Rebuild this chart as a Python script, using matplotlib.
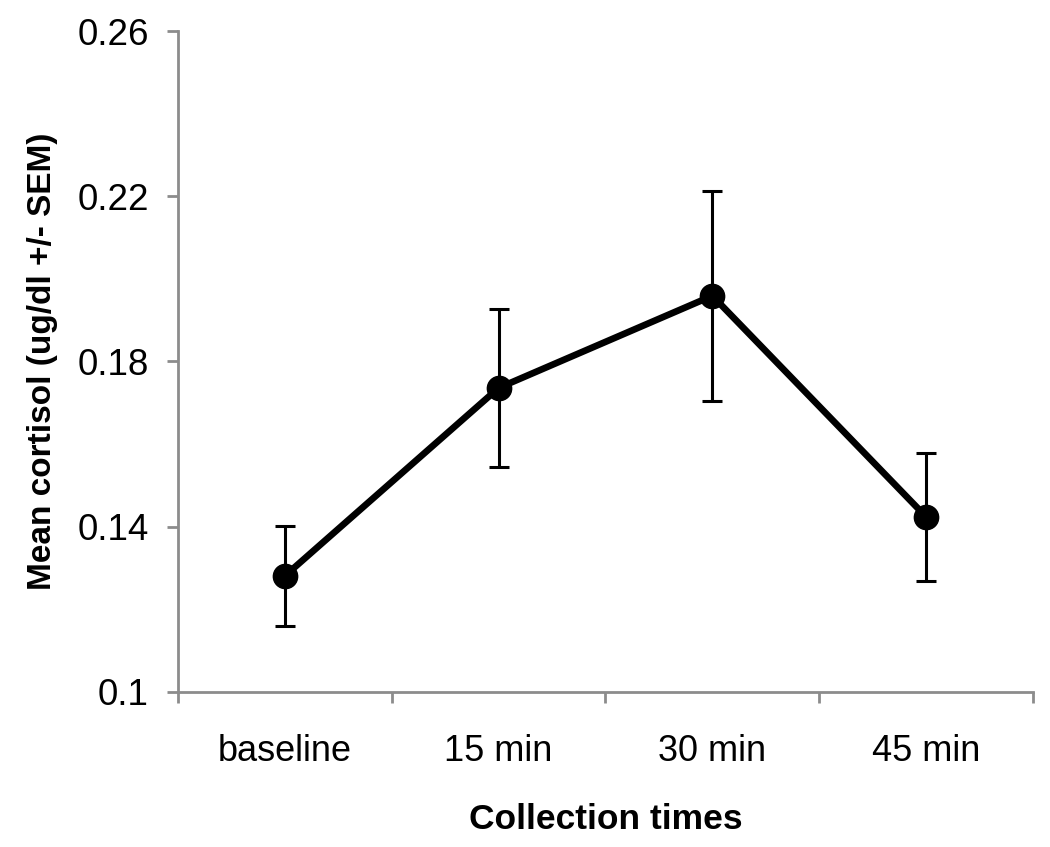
import matplotlib.pyplot as plt
from matplotlib.ticker import FixedLocator

plt.rcParams['font.family'] = ['Liberation Sans', 'DejaVu Sans']

times = ["baseline", "15 min", "30 min", "45 min"]
cortisol = [0.1281, 0.1736, 0.1959, 0.1424]
sem = [0.0122, 0.0192, 0.0254, 0.0155]
yticks = [0.1, 0.14, 0.18, 0.22, 0.26]
ytick_labels = ["0.1", "0.14", "0.18", "0.22", "0.26"]

fig = plt.figure(figsize=(10.5, 8.47), dpi=100)
ax = fig.add_axes([0.1695, 0.183, 0.8143, 0.7804])

x = list(range(len(times)))
ax.errorbar(x, cortisol, yerr=sem, color="black", lw=4.8, marker="o", ms=17.5,
            ecolor="black", elinewidth=2.2, capsize=7, capthick=2.2)

ax.set_xlim(-0.5, len(times) - 0.5)
ax.set_ylim(0.1, 0.26)
ax.set_yticks(yticks)
ax.set_yticklabels(ytick_labels)
ax.set_xticks(x)
ax.set_xticklabels(times)
ax.xaxis.set_minor_locator(FixedLocator([i - 0.5 for i in range(len(times) + 1)]))

for s in ["top", "right"]:
    ax.spines[s].set_visible(False)
for s in ["left", "bottom"]:
    ax.spines[s].set_color("#8c8c8c")
    ax.spines[s].set_linewidth(2)

ax.tick_params(axis="y", which="major", length=8, width=2, color="#8c8c8c",
               labelsize=26.5, pad=13)
ax.tick_params(axis="x", which="major", length=0, labelsize=26, pad=30)
ax.tick_params(axis="x", which="minor", length=8, width=2, color="#8c8c8c")

ax.set_xlabel("Collection times", fontsize=25.5, fontweight="bold", labelpad=25)
ax.set_ylabel("Mean cortisol (ug/dl +/- SEM)", fontsize=24, fontweight="bold",
              labelpad=14)

fig.savefig("out.png", dpi=100)
